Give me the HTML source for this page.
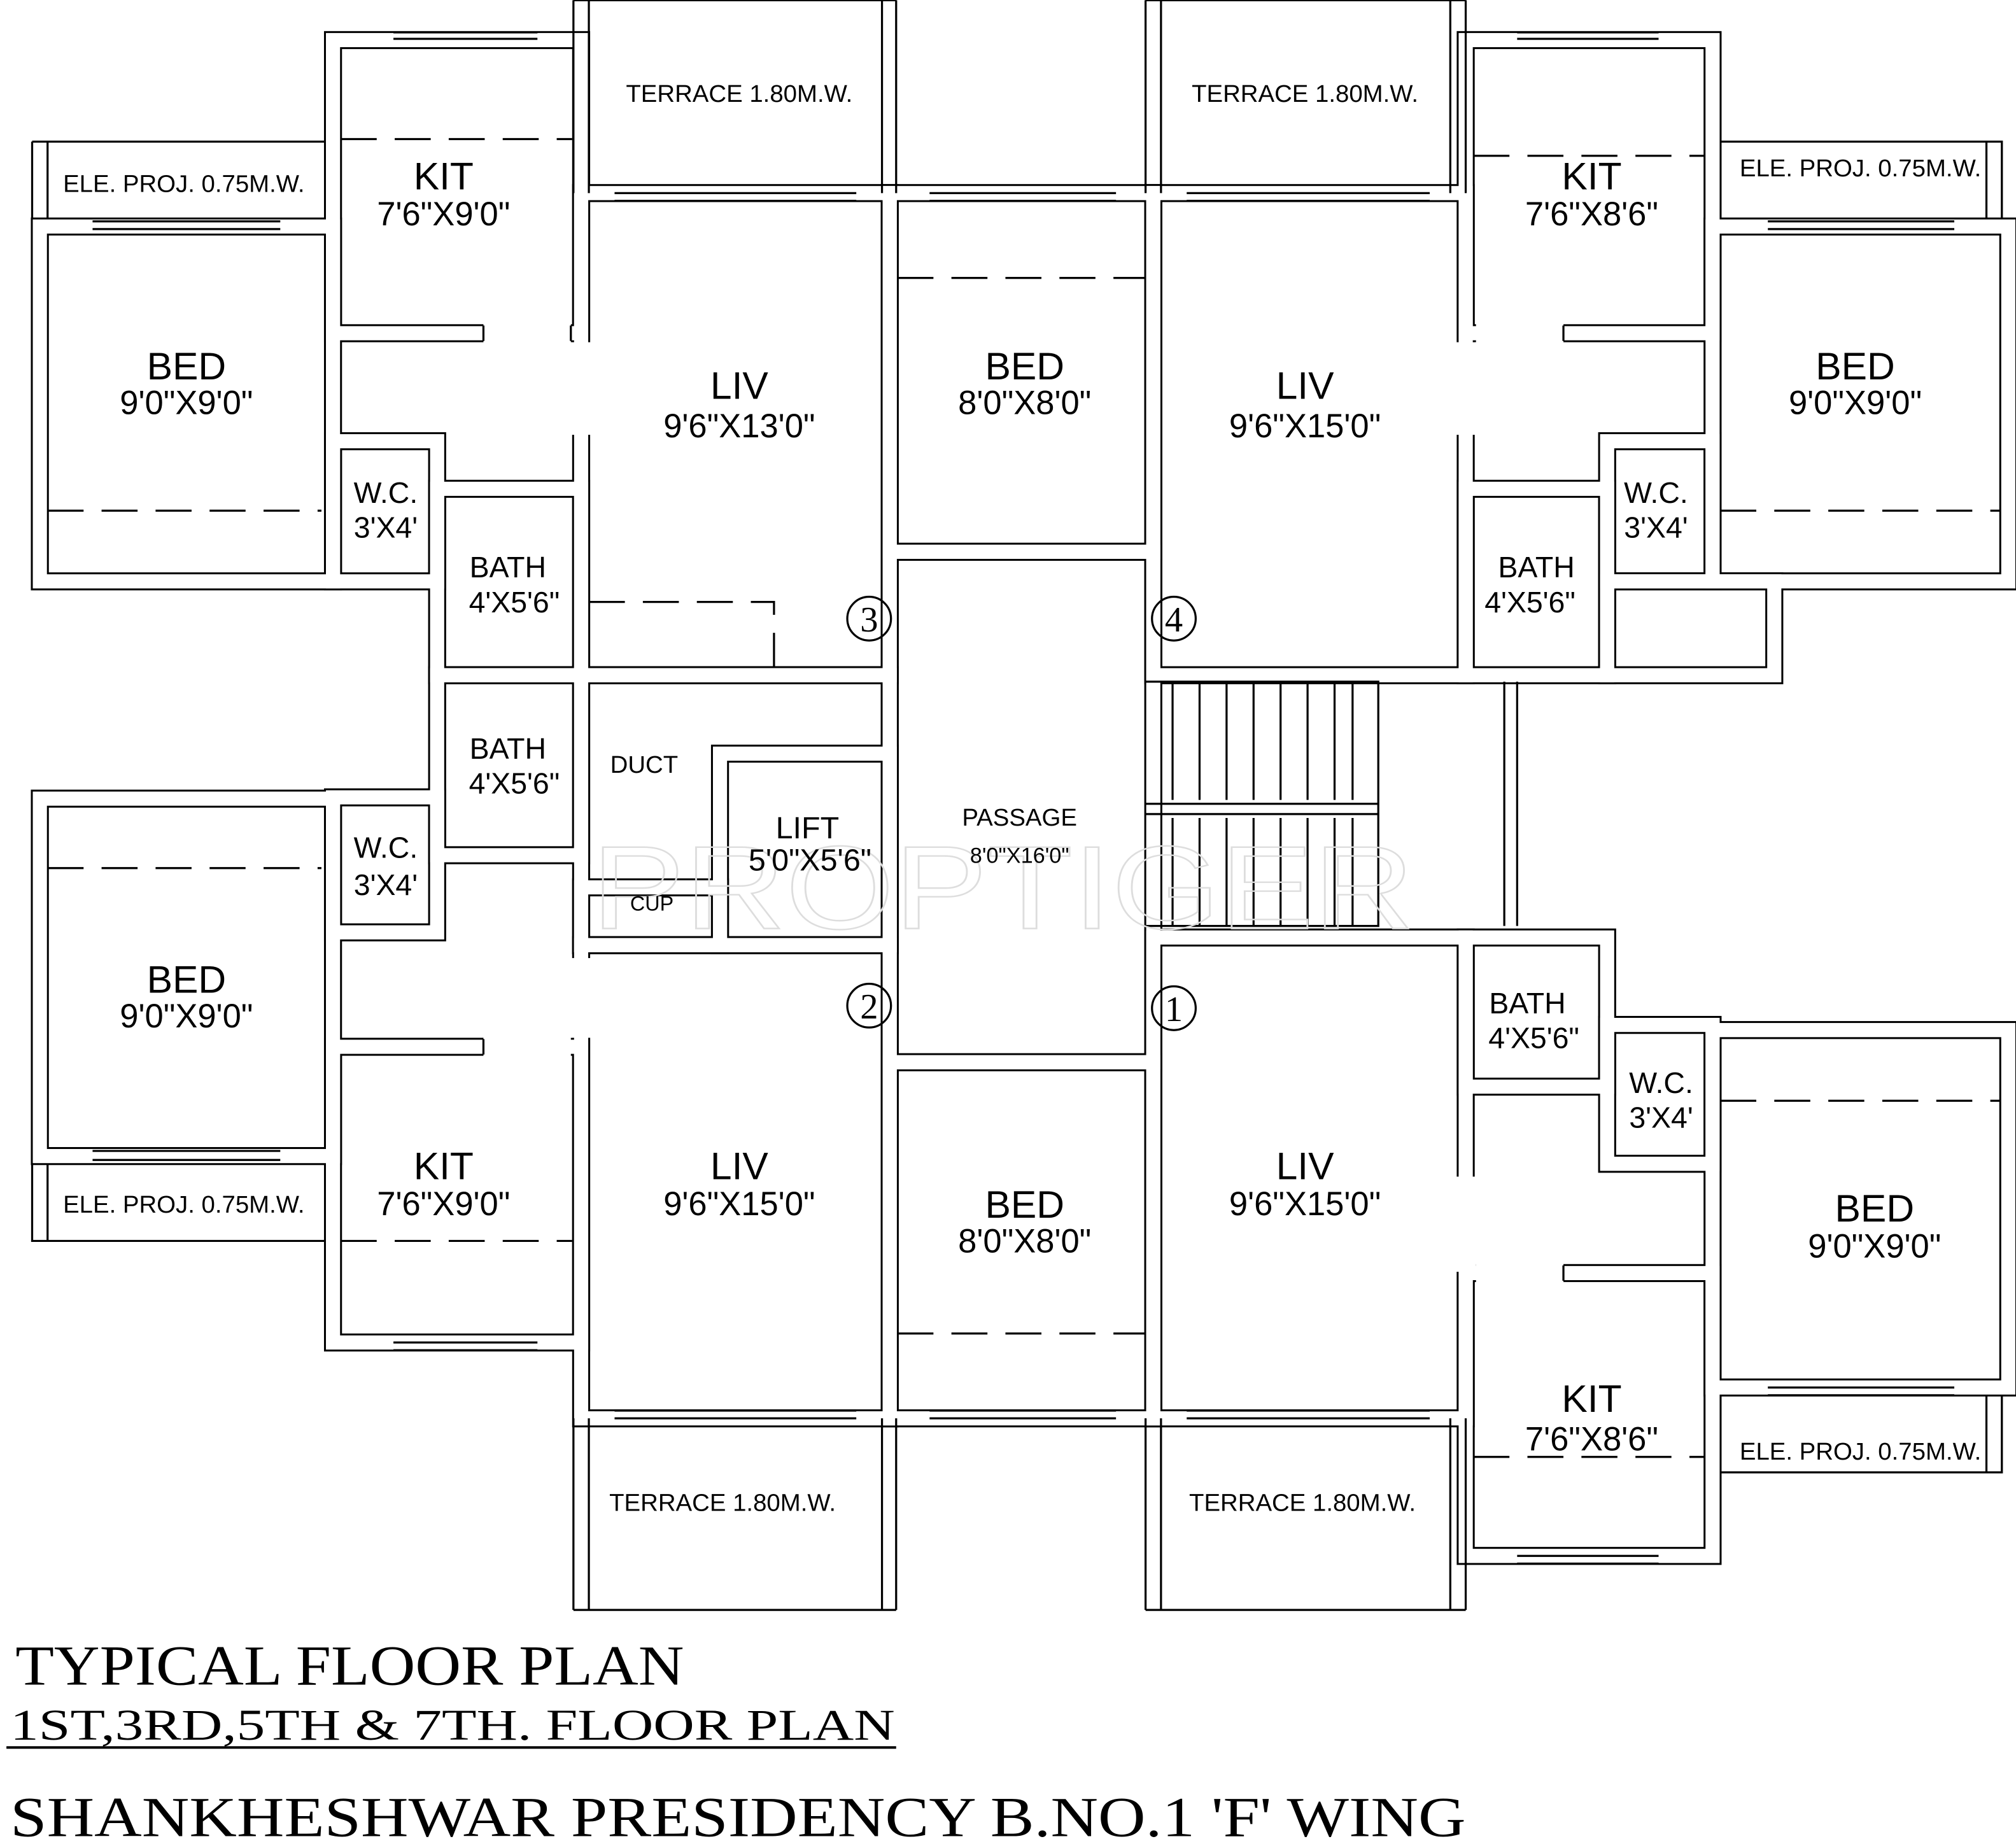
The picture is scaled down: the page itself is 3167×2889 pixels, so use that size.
<!DOCTYPE html>
<html><head><meta charset="utf-8"><style>
html,body{margin:0;padding:0;background:#fff;}
svg{display:block;}
text{font-family:"Liberation Sans",sans-serif;fill:#000;}
.t{font-family:"Liberation Serif",serif;}
</style></head><body>
<svg width="3167" height="2889" viewBox="0 0 1568 1430" xmlns="http://www.w3.org/2000/svg">
<rect width="1568" height="1430" fill="#fff"/>
<defs>
<g id="walls" fill="none">
<rect x="31" y="176" width="228" height="276"/>
<rect x="259" y="31" width="193" height="228"/>
<rect x="259" y="343" width="81" height="109"/>
<rect x="340" y="380" width="112" height="145"/>
<rect x="452" y="150" width="240" height="375"/>
<rect x="692" y="150" width="205" height="279"/>
<rect x="692" y="429" width="205" height="397"/>
<rect x="897" y="150" width="243" height="375"/>
<rect x="1140" y="31" width="192" height="228"/>
<rect x="1140" y="380" width="110" height="145"/>
<rect x="1250" y="343" width="82" height="109"/>
<rect x="1332" y="176" width="230" height="276"/>
<rect x="340" y="525" width="112" height="140"/>
<rect x="259" y="620" width="81" height="105"/>
<rect x="31" y="621" width="228" height="278"/>
<rect x="259" y="814" width="193" height="230"/>
<rect x="452" y="525" width="240" height="210"/>
<rect x="560" y="586" width="132" height="149"/>
<rect x="452" y="690" width="108" height="45"/>
<rect x="452" y="735" width="240" height="368"/>
<rect x="692" y="826" width="205" height="277"/>
<rect x="897" y="729" width="243" height="374"/>
<rect x="1140" y="729" width="110" height="116"/>
<rect x="1250" y="797" width="82" height="108"/>
<rect x="1332" y="801" width="230" height="278"/>
<rect x="1140" y="990" width="192" height="220"/>
<rect x="1250" y="452" width="130" height="73"/>
</g>
</defs>
<use href="#walls" stroke="#000" stroke-width="14"/>
<use href="#walls" stroke="#fff" stroke-width="11"/>
<g fill="#fff">
<rect x="376" y="251" width="68" height="16"/>
<rect x="444" y="266" width="16" height="72"/>
<rect x="1148" y="251" width="68" height="16"/>
<rect x="1132" y="266" width="16" height="72"/>
<rect x="376" y="806" width="68" height="16"/>
<rect x="444" y="745" width="16" height="62"/>
<rect x="1132" y="915" width="16" height="74"/>
<rect x="1148" y="982" width="68" height="16"/>
</g>
<g stroke="#000" stroke-width="1.6" fill="none">
<path d="M376 253H376V265M444 253V265M376 253V265"/>
<path d="M1216 253V265M1216 984V996M376 808V820"/>
<path d="M446 0V150M458 0V150M686 0V150M697 0V150M446 0H697"/>
<path d="M891 0V150M903 0V150M1128 0V150M1140 0V150M891 0H1140"/>
<path d="M446 1103V1252M458 1103V1252M686 1103V1252M697 1103V1252M446 1252H697"/>
<path d="M891 1103V1252M903 1103V1252M1128 1103V1252M1140 1103V1252M891 1252H1140"/>
<path d="M25 110H253M25 110V170M37 110V170"/>
<path d="M25 905V965H253M37 905V965"/>
<path d="M1338 110H1557V170M1545 110V170"/>
<path d="M1338 1145H1557V1085M1545 1085V1145"/>
<path d="M891 530H1072V720H891M891 625H1072M891 633H1072M1170 530V720M1180 530V720"/>
<path d="M912 530V622M933 530V622M954 530V622M975 530V622M996 530V622M1017 530V622M1038 530V622M1052 530V622M912 636V720M933 636V720M954 636V720M975 636V720M996 636V720M1017 636V720M1038 636V720M1052 636V720"/>
<path d="M72 172H218M72 178H218M72 895H218M72 902H218M306 25H418M306 30H418M306 1044H418M306 1050H418M478 150H666M478 156H666M723 150H868M723 156H868M923 150H1112M923 156H1112M478 1097H666M478 1103H666M723 1097H868M723 1103H868M923 1097H1112M923 1103H1112M1180 25H1290M1180 30H1290M1180 1210H1290M1180 1216H1290M1375 172H1520M1375 178H1520M1375 1079H1520M1375 1085H1520"/>
</g>
<g stroke="#000" stroke-width="1.6" fill="none" stroke-dasharray="28 14">
<path d="M265 108H445M1146 121H1326M37 397H250M1338 397H1556M37 675H250M265 965H445M1146 1133H1326M1338 856H1556M698 216H891M698 1037H891M458 468H602V518"/>
</g>
<text x="460" y="722" font-size="92" style="fill:none;stroke:#ddd;stroke-width:1.2" textLength="640" lengthAdjust="spacingAndGlyphs">PROPTIGER</text>
<g font-size="19" text-anchor="middle">
<text x="143" y="149">ELE. PROJ. 0.75M.W.</text>
<text x="143" y="943">ELE. PROJ. 0.75M.W.</text>
<text x="1447" y="137">ELE. PROJ. 0.75M.W.</text>
<text x="1447" y="1135">ELE. PROJ. 0.75M.W.</text>
<text x="575" y="79">TERRACE 1.80M.W.</text>
<text x="1015" y="79">TERRACE 1.80M.W.</text>
<text x="562" y="1175">TERRACE 1.80M.W.</text>
<text x="1013" y="1175">TERRACE 1.80M.W.</text>
<text x="501" y="601">DUCT</text>
<text x="507" y="708" font-size="16">CUP</text>
<text x="793" y="642">PASSAGE</text>
<text x="793" y="671" font-size="17">8'0"X16'0"</text>
</g>
<g font-size="30" text-anchor="middle">
<text x="345" y="147">KIT</text><text x="345" y="175" font-size="26">7'6"X9'0"</text>
<text x="145" y="295">BED</text><text x="145" y="322" font-size="26">9'0"X9'0"</text>
<text x="575" y="310">LIV</text><text x="575" y="340" font-size="26">9'6"X13'0"</text>
<text x="797" y="295">BED</text><text x="797" y="322" font-size="26">8'0"X8'0"</text>
<text x="1015" y="310">LIV</text><text x="1015" y="340" font-size="26">9'6"X15'0"</text>
<text x="1238" y="147">KIT</text><text x="1238" y="175" font-size="26">7'6"X8'6"</text>
<text x="1443" y="295">BED</text><text x="1443" y="322" font-size="26">9'0"X9'0"</text>
<text x="145" y="772">BED</text><text x="145" y="799" font-size="26">9'0"X9'0"</text>
<text x="345" y="917">KIT</text><text x="345" y="945" font-size="26">7'6"X9'0"</text>
<text x="575" y="917">LIV</text><text x="575" y="945" font-size="26">9'6"X15'0"</text>
<text x="797" y="947">BED</text><text x="797" y="974" font-size="26">8'0"X8'0"</text>
<text x="1015" y="917">LIV</text><text x="1015" y="945" font-size="26">9'6"X15'0"</text>
<text x="1458" y="950">BED</text><text x="1458" y="978" font-size="26">9'0"X9'0"</text>
<text x="1238" y="1098">KIT</text><text x="1238" y="1128" font-size="26">7'6"X8'6"</text>
<text x="628" y="652" font-size="24">LIFT</text><text x="630" y="677" font-size="24">5'0"X5'6"</text>
</g>
<g font-size="23" text-anchor="middle">
<text x="300" y="391">W.C.</text><text x="300" y="418">3'X4'</text>
<text x="1288" y="391">W.C.</text><text x="1288" y="418">3'X4'</text>
<text x="300" y="667">W.C.</text><text x="300" y="696">3'X4'</text>
<text x="1292" y="850">W.C.</text><text x="1292" y="877">3'X4'</text>
<text x="395" y="449">BATH</text><text x="400" y="476">4'X5'6"</text>
<text x="1195" y="449">BATH</text><text x="1190" y="476">4'X5'6"</text>
<text x="395" y="590">BATH</text><text x="400" y="617">4'X5'6"</text>
<text x="1188" y="788">BATH</text><text x="1193" y="815">4'X5'6"</text>
</g>
<g stroke="#000" stroke-width="1.6" fill="none">
<circle cx="676" cy="481" r="17"/><circle cx="913" cy="481" r="17"/>
<circle cx="676" cy="782" r="17"/><circle cx="913" cy="784" r="17"/>
</g>
<g font-size="28" text-anchor="middle">
<text class="t" x="676" y="491">3</text><text class="t" x="913" y="491">4</text>
<text class="t" x="676" y="792">2</text><text class="t" x="913" y="794">1</text>
</g>
<text class="t" x="12" y="1310" font-size="44" textLength="520" lengthAdjust="spacingAndGlyphs">TYPICAL FLOOR PLAN</text>
<text class="t" x="8" y="1353" font-size="34" textLength="688" lengthAdjust="spacingAndGlyphs">1ST,3RD,5TH &amp; 7TH.  FLOOR PLAN</text>
<line x1="5" y1="1359" x2="697" y2="1359" stroke="#000" stroke-width="2"/>
<text class="t" x="8" y="1428" font-size="44" textLength="1132" lengthAdjust="spacingAndGlyphs">SHANKHESHWAR PRESIDENCY B.NO.1 'F' WING</text>
</svg>
</body></html>
